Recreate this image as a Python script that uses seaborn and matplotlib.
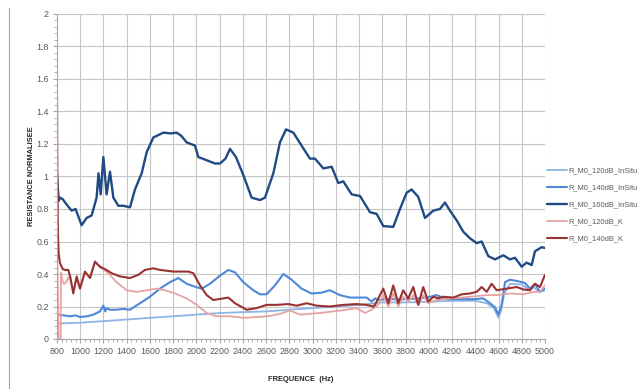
import numpy as np
import pandas as pd
import matplotlib
matplotlib.use("Agg")
import matplotlib.pyplot as plt
import seaborn as sns
from matplotlib.ticker import MultipleLocator
from matplotlib.lines import Line2D

# ---- data ----
series_names = ["R_M0_120dB_InSitu", "R_M0_140dB_InSitu", "R_M0_160dB_InSitu",
                "R_M0_120dB_K", "R_M0_140dB_K"]

lb_f = [800, 1000, 1400, 1800, 2200, 2600, 3000, 3400, 3600, 3800, 4000, 4200, 4400, 4500,
        4560, 4600, 4620, 4650, 4700, 4800, 4870, 4900, 4950, 5000]
lb_v = [0.095, 0.10, 0.12, 0.14, 0.16, 0.17, 0.19, 0.21, 0.225, 0.225, 0.23, 0.235, 0.235, 0.22,
        0.19, 0.13, 0.17, 0.28, 0.34, 0.335, 0.30, 0.32, 0.29, 0.30]

mb_f = [800, 812, 860, 912, 960, 998, 1060, 1113, 1170, 1199, 1215, 1227, 1256, 1313, 1370,
        1428, 1514, 1600, 1686, 1773, 1844, 1916, 1973, 2045, 2117, 2203, 2274, 2332, 2403, 2489,
        2547, 2604, 2676, 2748, 2819, 2905, 2991, 3077, 3149, 3235, 3321, 3408, 3465, 3508, 3537,
        3565, 3637, 3780, 3924, 4010, 4067, 4153, 4268, 4383, 4469, 4527, 4570, 4598, 4627, 4656,
        4699, 4771, 4828, 4871, 4914, 4957, 5000]
mb_v = [0.16, 0.15, 0.145, 0.14, 0.145, 0.135, 0.14, 0.15, 0.17, 0.205, 0.17, 0.19, 0.18, 0.18, 0.185,
        0.18, 0.22, 0.26, 0.31, 0.35, 0.375, 0.34, 0.325, 0.31, 0.34, 0.39, 0.425, 0.41, 0.35, 0.30,
        0.275, 0.275, 0.33, 0.40, 0.365, 0.31, 0.28, 0.285, 0.30, 0.27, 0.255, 0.255, 0.255, 0.23, 0.25,
        0.24, 0.245, 0.245, 0.25, 0.26, 0.27, 0.245, 0.245, 0.245, 0.25, 0.22, 0.195, 0.15, 0.21, 0.35,
        0.365, 0.355, 0.345, 0.31, 0.34, 0.29, 0.31]

nv_f = [800, 805, 815, 826, 850, 880, 926, 960, 1012, 1055, 1098, 1141, 1157, 1176, 1199,
        1227, 1256, 1285, 1328, 1371, 1428, 1471, 1529, 1572, 1629, 1715, 1780, 1830, 1870, 1916,
        1988, 2016, 2088, 2160, 2203, 2250, 2289, 2340, 2403, 2475, 2547, 2590, 2662, 2719, 2771,
        2834, 2905, 2977, 3020, 3092, 3164, 3221, 3264, 3336, 3408, 3494, 3551, 3608, 3694, 3752,
        3809, 3852, 3909, 3967, 4039, 4096, 4139, 4182, 4240, 4297, 4354, 4412, 4455, 4512, 4570,
        4641, 4699, 4742, 4799, 4842, 4885, 4914, 4971, 5000]
nv_v = [1.02, 0.95, 0.85, 0.87, 0.86, 0.83, 0.79, 0.80, 0.70, 0.745, 0.76, 0.87, 1.02, 0.89, 1.12,
        0.89, 1.03, 0.87, 0.82, 0.82, 0.81, 0.92, 1.02, 1.15, 1.24, 1.27, 1.265, 1.27, 1.25, 1.21,
        1.19, 1.12, 1.10, 1.08, 1.08, 1.11, 1.17, 1.12, 1.01, 0.87, 0.855, 0.87, 1.02, 1.21, 1.29,
        1.27, 1.19, 1.11, 1.11, 1.05, 1.06, 0.96, 0.97, 0.89, 0.88, 0.78, 0.77, 0.695, 0.69, 0.80,
        0.90, 0.92, 0.875, 0.745, 0.79, 0.80, 0.84, 0.79, 0.73, 0.66, 0.62, 0.59, 0.60, 0.51, 0.49,
        0.515, 0.49, 0.50, 0.445, 0.47, 0.455, 0.54, 0.565, 0.56]

pk_f = [800, 806, 812, 831, 834, 845, 860, 880, 897, 915, 940, 969, 998, 1041, 1084,
        1127, 1170, 1227, 1313, 1399, 1486, 1572, 1658, 1729, 1816, 1916, 2002, 2088, 2174, 2289,
        2403, 2518, 2618, 2719, 2805, 2891, 2977, 3063, 3178, 3293, 3379, 3451, 3508, 3565, 3608,
        3651, 3694, 3737, 3780, 3823, 3866, 3909, 3952, 3995, 4067, 4211, 4354, 4498, 4584, 4699,
        4813, 4900, 4957, 5000]
pk_v = [0.55, 0.35, 0.0, 0.0, 0.41, 0.36, 0.34, 0.35, 0.38, 0.36, 0.30, 0.37, 0.32, 0.41, 0.38,
        0.48, 0.44, 0.415, 0.35, 0.30, 0.29, 0.30, 0.31, 0.30, 0.28, 0.25, 0.21, 0.16, 0.14, 0.14,
        0.13, 0.135, 0.14, 0.155, 0.175, 0.15, 0.155, 0.16, 0.17, 0.18, 0.19, 0.16, 0.18, 0.21, 0.27,
        0.20, 0.28, 0.20, 0.26, 0.23, 0.27, 0.21, 0.27, 0.22, 0.24, 0.25, 0.26, 0.27, 0.27, 0.28,
        0.275, 0.29, 0.29, 0.33]

dr_f = [800, 803, 808, 815, 826, 850, 869, 897, 915, 940, 969, 998, 1041, 1084, 1127,
        1170, 1213, 1270, 1342, 1428, 1500, 1557, 1629, 1686, 1744, 1801, 1873, 1930, 1973, 2031,
        2088, 2145, 2188, 2235, 2274, 2332, 2432, 2518, 2604, 2690, 2791, 2863, 2949, 3035, 3149,
        3264, 3379, 3465, 3522, 3537, 3608, 3651, 3694, 3737, 3780, 3823, 3866, 3909, 3952, 3995,
        4039, 4081, 4125, 4211, 4283, 4354, 4412, 4455, 4498, 4541, 4584, 4670, 4756, 4813, 4871,
        4914, 4957, 5000]
dr_v = [1.49, 1.0, 0.65, 0.52, 0.466, 0.43, 0.425, 0.425, 0.38, 0.28, 0.385, 0.31, 0.415, 0.375, 0.475,
        0.445, 0.43, 0.405, 0.385, 0.375, 0.395, 0.425, 0.435, 0.425, 0.42, 0.415, 0.415, 0.415, 0.405, 0.33,
        0.27, 0.24, 0.245, 0.25, 0.255, 0.22, 0.18, 0.19, 0.21, 0.21, 0.215, 0.205, 0.22, 0.205, 0.20,
        0.21, 0.215, 0.21, 0.20, 0.21, 0.31, 0.22, 0.33, 0.22, 0.30, 0.25, 0.32, 0.21, 0.32, 0.23,
        0.26, 0.25, 0.26, 0.255, 0.275, 0.28, 0.29, 0.32, 0.29, 0.34, 0.30, 0.31, 0.32, 0.305, 0.30,
        0.34, 0.32, 0.395]

x_ticks = list(range(800, 5001, 200))
y_ticks = [0, 0.2, 0.4, 0.6, 0.8, 1, 1.2, 1.4, 1.6, 1.8, 2]

colors = {"R_M0_120dB_InSitu": "#8db4e6", "R_M0_140dB_InSitu": "#4f88d6",
          "R_M0_160dB_InSitu": "#1f4a84", "R_M0_120dB_K": "#e5a3a1", "R_M0_140dB_K": "#9a3232"}
widths = {"R_M0_120dB_InSitu": 1.3, "R_M0_140dB_InSitu": 1.5, "R_M0_160dB_InSitu": 1.7,
          "R_M0_120dB_K": 1.3, "R_M0_140dB_K": 1.5}

frames = []
for name, f, v in zip(series_names, [lb_f, mb_f, nv_f, pk_f, dr_f], [lb_v, mb_v, nv_v, pk_v, dr_v]):
    frames.append(pd.DataFrame({"freq": f, "val": v, "series": name}))
df = pd.concat(frames, ignore_index=True)

sns.set_style("white")
plt.rcParams["font.family"] = ["Liberation Sans", "DejaVu Sans"]

fig = plt.figure(figsize=(6.41, 3.89), dpi=100)
ax = fig.add_axes([57 / 641, 1 - 339 / 389, (545 - 57) / 641, (339 - 14) / 389])

for name in series_names:
    sub = df[df["series"] == name]
    sns.lineplot(data=sub, x="freq", y="val", ax=ax, color=colors[name], lw=widths[name],
                 sort=False, estimator=None, label=name)

ax.set_xlim(800, 5000)
ax.set_ylim(0, 2)
ax.set_xticks(x_ticks)
ax.set_xticklabels([str(t) for t in x_ticks])
ax.set_yticks(y_ticks)
ax.set_yticklabels([f"{t:g}" for t in y_ticks])
ax.xaxis.set_minor_locator(MultipleLocator(40))
ax.yaxis.set_minor_locator(MultipleLocator(0.04))
ax.grid(True, which="major", color="#c6c6c6", lw=0.8)
ax.set_axisbelow(True)
for s in ["top", "right"]:
    ax.spines[s].set_visible(False)
for s in ["left", "bottom"]:
    ax.spines[s].set_color("#a6a6a6")
    ax.spines[s].set_linewidth(0.8)
ax.tick_params(axis="both", which="major", labelsize=6.4, labelcolor="#595959",
               color="#a6a6a6", length=3, width=0.8, direction="out", pad=3)
ax.tick_params(axis="both", which="minor", color="#a6a6a6", length=2, width=0.6, direction="out")
ax.tick_params(axis="x", which="both", bottom=True)
ax.tick_params(axis="y", which="both", left=True)

ax.set_xlabel("FREQUENCE  (Hz)", fontsize=5.4, fontweight="bold", color="#262626", labelpad=14)
ax.set_ylabel("RESISTANCE NORMALISEE", fontsize=5.4, fontweight="bold", color="#262626", labelpad=1)

leg = ax.legend(loc="upper left", bbox_to_anchor=(547 / 641, 1 - 167 / 389),
                bbox_transform=fig.transFigure, frameon=False, fontsize=5.4,
                handlelength=2.7, handletextpad=0.2, labelspacing=1.3, borderpad=0,
                borderaxespad=0)
for t in leg.get_texts():
    t.set_color("#595959")

fig.add_artist(Line2D([9 / 641, 9 / 641], [0, 1 - 8 / 389], transform=fig.transFigure,
                      color="#a6a6a6", lw=0.8))

fig.savefig("out.png", dpi=100)
